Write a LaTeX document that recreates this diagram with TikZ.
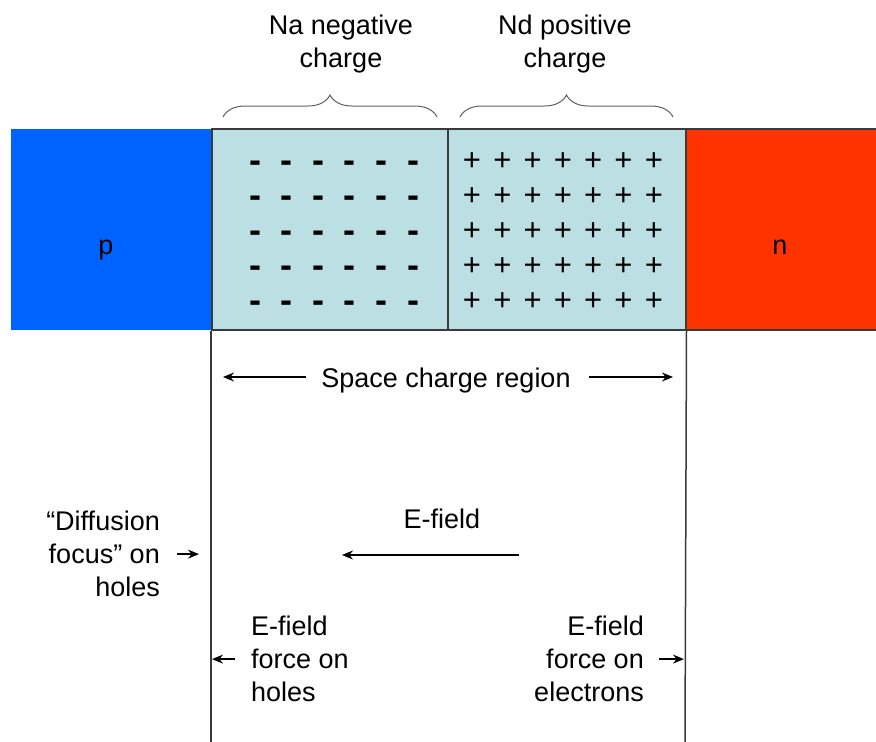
\documentclass[tikz,border=0pt]{standalone}
\usepackage{fontspec}
\setmainfont{Liberation Sans}
\usepackage{xcolor}
\usetikzlibrary{positioning, arrows.meta, decorations.pathreplacing}
\definecolor{pnblue}{HTML}{0062FF}
\definecolor{pnred}{HTML}{FF3300}
\definecolor{pnzone}{HTML}{BBDFE3}
\definecolor{pnline}{HTML}{3A3A3A}

\begin{document}
\begin{tikzpicture}[x=1pt, y=-1pt,
    lbl/.style={font=\fontsize{27}{33}\selectfont, inner sep=0pt},
    zone/.style={draw=pnline, line width=1.5pt, minimum height=201pt,
                 inner sep=0pt, anchor=north west},
    arr/.style={-{Stealth[length=11pt,width=9pt]}, line width=1.4pt},
    minus/.style={font=\fontsize{36}{36}\selectfont\bfseries, inner sep=0pt, anchor=base},
    plus/.style={font=\fontsize{31}{31}\selectfont, inner sep=0pt, anchor=base},
    brace/.style={decorate, decoration={brace, amplitude=22pt},
                  draw=pnline!80, line width=1pt}]
  \useasboundingbox (0,0) rectangle (876,742);

  % the junction bar
  \node[zone, fill=pnblue, draw=none, minimum width=201pt] (preg) at (10,128) {};
  \node[zone, fill=pnred, minimum width=200pt] (nreg) at (685,128) {};
  \node[zone, fill=pnzone, minimum width=236pt] (nazone) at (211,128) {};
  \node[zone, fill=pnzone, minimum width=238pt] (ndzone) at (447,128) {};
  \node[lbl, anchor=base] (plbl) at (106,254) {p};
  \node[lbl, anchor=base] (nlbl) at (780,254) {n};

  % fixed charges
  \foreach \i in {0,...,5}
    \foreach \j in {0,...,4}
      \node[minus] at (255+31.6*\i, 172+35*\j) {-};
  \foreach \i in {0,...,6}
    \foreach \j in {0,...,4}
      \node[plus] at (472+30.3*\i, 170+35*\j) {+};

  % braces and charge labels
  \draw[brace] (223,117) -- (437,117);
  \draw[brace] (460,117) -- (673,117);
  \node[lbl, align=center, anchor=north] (nalbl) at (341,14.5) {Na negative\\charge};
  \node[lbl, align=center, anchor=north] (ndlbl) at (565,14.5) {Nd positive\\charge};

  % edges of the space charge region
  \coordinate (jlend) at (211,742);
  \coordinate (jrend) at (685,742);
  \draw[pnline, line width=1.5pt] (nazone.south west) -- (jlend);
  \draw[pnline, line width=1.5pt] (ndzone.south east) -- (jrend);

  \node[lbl, anchor=base] (scr) at (446,387) {Space charge region};
  \coordinate (scrl) at (223,377);
  \coordinate (scrr) at (673,377);
  \draw[arr] ([xshift=-15pt]scr.west |- scrl) -- (scrl);
  \draw[arr] ([xshift=18pt]scr.east |- scrr) -- (scrr);

  % field and forces
  \node[lbl, anchor=base] (eflbl) at (442,528) {E-field};
  \coordinate (eftail) at (519,555);
  \coordinate (efhead) at (342,555);
  \draw[arr] (eftail) -- (efhead);

  \node[lbl, align=right, anchor=north east] (difflbl) at (160,511)
    {“Diffusion\\focus” on\\holes};
  \draw[arr] ([xshift=17pt]difflbl.east) -- ([xshift=39pt]difflbl.east);

  \node[lbl, align=left, anchor=north west] (holelbl) at (251,616)
    {E-field\\force on\\holes};
  \draw[arr] ([xshift=-16pt]holelbl.west) -- ([xshift=-39pt]holelbl.west);

  \node[lbl, align=right, anchor=north east] (eleclbl) at (644,616)
    {E-field\\force on\\electrons};
  \draw[arr] ([xshift=15pt]eleclbl.east) -- ([xshift=40pt]eleclbl.east);
\end{tikzpicture}
\end{document}
